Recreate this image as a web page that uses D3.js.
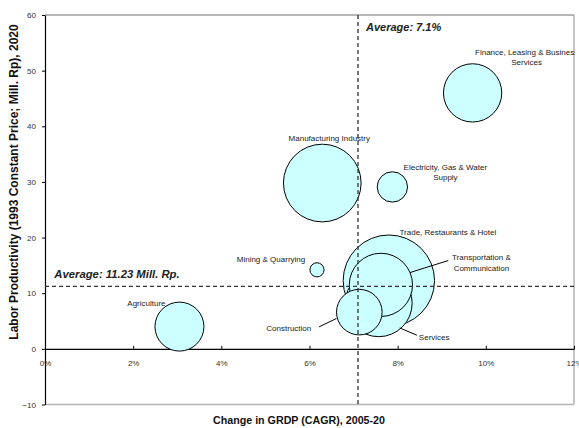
<!DOCTYPE html>
<html>
<head>
<meta charset="utf-8">
<script src="https://cdn.jsdelivr.net/npm/d3@7"></script>
<style>
  html, body { margin: 0; padding: 0; background: #fff; }
  svg { display: block; font-family: "Liberation Sans", Arial, sans-serif; }
</style>
</head>
<body>
<svg id="chart" width="579" height="428"></svg>
<script>
// Sectors of the regional economy
const sectors = [
  "Trade, Restaurants & Hotel",
  "Manufacturing Industry",
  "Services",
  "Transportation & Communication",
  "Finance, Leasing & Business Services",
  "Agriculture",
  "Construction",
  "Electricity, Gas & Water Supply",
  "Mining & Quarrying"
];
// Growth of GRDP, CAGR 2005-20 (%)
const growth = [7.80, 6.29, 7.57, 7.62, 9.70, 3.05, 7.13, 7.88, 6.17];
// Labor productivity, 2020 (Mill. Rp, 1993 constant price)
const productivity = [12.25, 29.8, 8.2, 11.5, 46.0, 4.0, 6.6, 29.1, 14.2];
// Bubble size values
const bubbleSizes = [20.9, 15.1, 11.2, 10.0, 8.5, 6.0, 5.2, 2.3, 0.5];
// Label lines for each sector
const labelLines = [
  ["Trade, Restaurants & Hotel"],
  ["Manufacturing Industry"],
  ["Services"],
  ["Transportation &", "Communication"],
  ["Finance, Leasing & Business", "Services"],
  ["Agriculture"],
  ["Construction"],
  ["Electricity, Gas & Water", "Supply"],
  ["Mining & Quarrying"]
];
// Axis ticks
const xTicks = [0, 2, 4, 6, 8, 10, 12];
const yTicks = [-10, 0, 10, 20, 30, 40, 50, 60];
const xTickLabels = ["0%", "2%", "4%", "6%", "8%", "10%", "12%"];
// Averages
const avgGrowth = 7.1;
const avgProductivity = 11.23;
const avgGrowthLabel = "Average: 7.1%";
const avgProductivityLabel = "Average: 11.23 Mill. Rp.";
const xTitle = "Change in GRDP (CAGR), 2005-20";
const yTitle = "Labor Productivity (1993 Constant Price; Mill. Rp), 2020";

// ---- layout ----
const plot = { left: 45, right: 574, top: 15, bottom: 404.5 };
const maxRadius = 45.7;

// label placement relative to bubble centres (pixels): text centre and optional leader line
const labelLayout = {
  "Trade, Restaurants & Hotel": { dx: 59, dy: -48.7 },
  "Manufacturing Industry": { dx: 7, dy: -44.5 },
  "Services": { dx: 55.5, dy: 33.7, leader: [[21, 24.7], [38.2, 32]] },
  "Transportation & Communication": { dx: 100.5, dy: -27.7, leader: [[29, -12.3], [67.3, -24.3]] },
  "Finance, Leasing & Business Services": { dx: 54, dy: -41 },
  "Agriculture": { dx: -33, dy: -23.4 },
  "Construction": { dx: -70.5, dy: 16, leader: [[-40.2, 14.7], [-22.8, 6.3]] },
  "Electricity, Gas & Water Supply": { dx: 53, dy: -20.2 },
  "Mining & Quarrying": { dx: -46, dy: -10.7 }
};
const lineHeight = 10.6;

const svg = d3.select("#chart");

const x = d3.scaleLinear().domain([0, 12]).range([plot.left, plot.right]);
const y = d3.scaleLinear().domain([-10, 60]).range([plot.bottom, plot.top]);
const r = d3.scaleSqrt().domain([0, d3.max(bubbleSizes)]).range([0, maxRadius]);

svg.append("defs").append("clipPath").attr("id", "plotClip")
  .append("rect")
  .attr("x", 0).attr("y", 0)
  .attr("width", plot.right + 1).attr("height", 428);

// plot frame (top, right, bottom)
const frame = svg.append("g").attr("stroke", "#8c8c8c").attr("stroke-width", 1).attr("fill", "none");
frame.append("line").attr("x1", plot.left).attr("x2", plot.right).attr("y1", plot.top).attr("y2", plot.top).attr("stroke", "#6e6e6e");
frame.append("line").attr("x1", plot.right).attr("x2", plot.right).attr("y1", plot.top).attr("y2", plot.bottom);
frame.append("line").attr("x1", plot.left).attr("x2", plot.right).attr("y1", plot.bottom).attr("y2", plot.bottom).attr("stroke", "#b4b4b4").attr("stroke-width", 1.5);

// y axis
const yAxis = svg.append("g")
  .attr("transform", `translate(${plot.left},0)`)
  .call(d3.axisLeft(y).tickValues(yTicks).tickSize(3).tickSizeOuter(0).tickPadding(6));
yAxis.select(".domain").attr("stroke", "#000").attr("stroke-width", 1.2);
yAxis.selectAll(".tick line").attr("stroke", "#000");
yAxis.selectAll(".tick text").attr("font-size", 8).attr("fill", "#333").attr("font-family", "Liberation Sans, Arial, sans-serif");

// x axis crossing at zero
const xAxis = svg.append("g")
  .attr("transform", `translate(0,${y(0)})`)
  .call(d3.axisBottom(x).tickValues(xTicks).tickFormat((d, i) => xTickLabels[i])
    .tickSizeInner(-3).tickSizeOuter(0).tickPadding(11));
xAxis.select(".domain").attr("stroke", "#000").attr("stroke-width", 1.2);
xAxis.selectAll(".tick line").attr("stroke", "#000");
xAxis.selectAll(".tick text").attr("font-size", 8).attr("fill", "#333").attr("font-family", "Liberation Sans, Arial, sans-serif");

// bubbles, largest first so smaller ones sit on top
const order = d3.range(sectors.length).sort((a, b) => bubbleSizes[b] - bubbleSizes[a]);
svg.append("g").selectAll("circle")
  .data(order)
  .join("circle")
  .attr("cx", i => x(growth[i]))
  .attr("cy", i => y(productivity[i]))
  .attr("r", i => r(bubbleSizes[i]))
  .attr("fill", "#ccffff")
  .attr("stroke", "#000")
  .attr("stroke-width", 1);

// average lines
const avg = svg.append("g").attr("stroke", "#333").attr("stroke-width", 1.3).attr("stroke-dasharray", "4,3");
avg.append("line")
  .attr("x1", x(avgGrowth)).attr("x2", x(avgGrowth))
  .attr("y1", plot.top).attr("y2", plot.bottom);
avg.append("line")
  .attr("x1", plot.left).attr("x2", plot.right)
  .attr("y1", y(avgProductivity)).attr("y2", y(avgProductivity));

svg.append("text")
  .attr("x", x(avgGrowth) + 8).attr("y", plot.top + 12.3).attr("dy", "0.35em")
  .attr("font-size", 11).attr("font-weight", "bold").attr("font-style", "italic").attr("fill", "#222")
  .text(avgGrowthLabel);
svg.append("text")
  .attr("x", plot.left + 9.3).attr("y", y(avgProductivity) - 12.6).attr("dy", "0.35em")
  .attr("font-size", 11.3).attr("font-weight", "bold").attr("font-style", "italic").attr("fill", "#222")
  .text(avgProductivityLabel);

// sector labels and leader lines
const labels = svg.append("g").attr("clip-path", "url(#plotClip)");
sectors.forEach((name, i) => {
  const L = labelLayout[name];
  const cx = x(growth[i]), cy = y(productivity[i]);
  const lines = labelLines[i];
  const t = labels.append("text")
    .attr("text-anchor", "middle")
    .attr("font-size", 8)
    .attr("fill", "#222");
  lines.forEach((ln, k) => {
    t.append("tspan")
      .attr("x", cx + L.dx)
      .attr("y", cy + L.dy + k * lineHeight)
      .attr("dy", "0.35em")
      .text(ln);
  });
  if (L.leader) {
    labels.append("line")
      .attr("x1", cx + L.leader[0][0]).attr("y1", cy + L.leader[0][1])
      .attr("x2", cx + L.leader[1][0]).attr("y2", cy + L.leader[1][1])
      .attr("stroke", "#000").attr("stroke-width", 1);
  }
});

// axis titles
svg.append("text")
  .attr("x", 299).attr("y", 420).attr("dy", "0.35em")
  .attr("text-anchor", "middle")
  .attr("font-size", 10.7).attr("font-weight", "bold").attr("fill", "#111")
  .text(xTitle);
svg.append("text")
  .attr("transform", `translate(14,182) rotate(-90)`)
  .attr("dy", "0.35em")
  .attr("text-anchor", "middle")
  .attr("font-size", 12).attr("font-weight", "bold").attr("fill", "#111")
  .text(yTitle);
</script>
</body>
</html>
